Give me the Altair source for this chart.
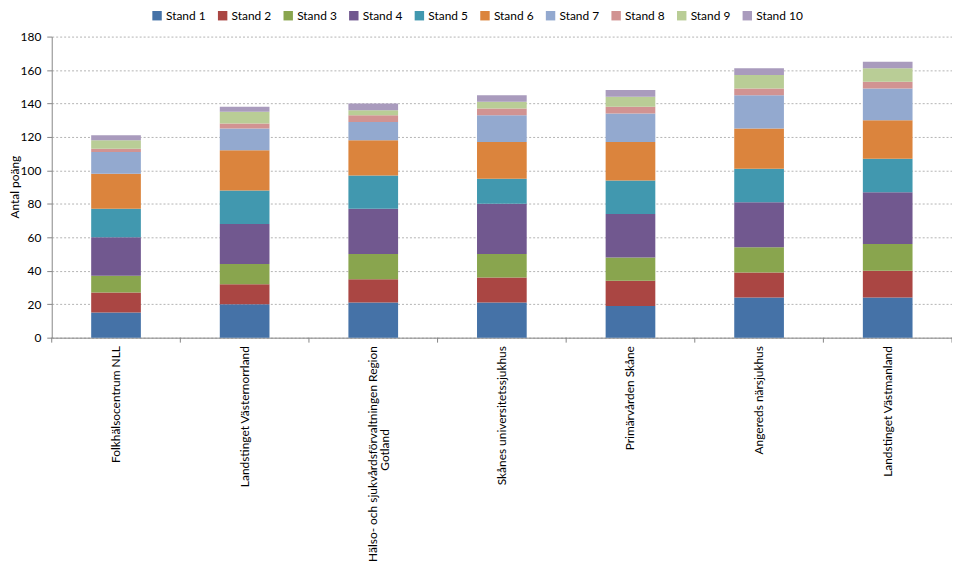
import altair as alt
import pandas as pd

categories = [
    "Folkhälsocentrum NLL",
    "Landstinget Västernorrland",
    "Hälso- och sjukvårdsförvaltningen Region Gotland",
    "Skånes universitetssjukhus",
    "Primärvården Skåne",
    "Angereds närsjukhus",
    "Landstinget Västmanland",
]
series_names = ["Stand 1", "Stand 2", "Stand 3", "Stand 4", "Stand 5",
                "Stand 6", "Stand 7", "Stand 8", "Stand 9", "Stand 10"]
stand1 = [15, 20, 21, 21, 19, 24, 24]
stand2 = [12, 12, 14, 15, 15, 15, 16]
stand3 = [10, 12, 15, 14, 14, 15, 16]
stand4 = [23, 24, 27, 30, 26, 27, 31]
stand5 = [17, 20, 20, 15, 20, 20, 20]
stand6 = [21, 24, 21, 22, 23, 24, 23]
stand7 = [13, 13, 11, 16, 17, 20, 19]
stand8 = [2, 3, 4, 4, 4, 4, 4]
stand9 = [5, 7, 3, 4, 6, 8, 8]
stand10 = [3, 3, 4, 4, 4, 4, 4]
y_ticks = [0, 20, 40, 60, 80, 100, 120, 140, 160, 180]
colors = ["#4572A7", "#AA4643", "#89A54E", "#71588F", "#4198AF",
          "#DB843D", "#93A9CF", "#D19392", "#B9CD96", "#A99BBD"]

all_series = [stand1, stand2, stand3, stand4, stand5,
              stand6, stand7, stand8, stand9, stand10]
rows = []
for si, (name, vals) in enumerate(zip(series_names, all_series)):
    for cat, v in zip(categories, vals):
        rows.append({"kategori": cat, "serie": name, "idx": si, "poang": v})
df = pd.DataFrame(rows)
cat_df = pd.DataFrame({"kategori": categories})
last_df = pd.DataFrame({"kategori": categories[-1:]})

# the long label is wrapped onto two lines, as in the original
long_cat = categories[2]
line1, line2 = long_cat.rsplit(" ", 1)
wrap_df = pd.DataFrame({"kategori": [long_cat], "rad": [line2]})

FONT = "Lato"
label_expr = (
    "datum.value == '" + long_cat + "' ? '" + line1 + "' : datum.label"
)

xscale = alt.Scale(domain=categories, paddingInner=0, paddingOuter=0)

bars = alt.Chart(df).mark_bar(size=50).encode(
    x=alt.X("kategori:N", scale=xscale, sort=categories,
            axis=alt.Axis(title=None, labelAngle=270, labelAlign="right",
                          labelBaseline="middle", labelExpr=label_expr,
                          labelLimit=0, ticks=False, labelPadding=8,
                          labelFont=FONT, labelFontSize=12, labelColor="#000000",
                          domainColor="#868686")),
    y=alt.Y("poang:Q", stack="zero",
            scale=alt.Scale(domain=[0, 180], nice=False),
            axis=alt.Axis(title="Antal poäng", values=y_ticks, tickSize=5,
                          tickColor="#868686", domainColor="#868686",
                          labelPadding=6, labelFont=FONT, labelFontSize=12,
                          labelColor="#000000", titleFont=FONT,
                          titleFontSize=12, titleFontWeight="normal",
                          titleColor="#000000", titleX=-37, titleY=151,
                          titleAngle=270, titleAlign="center",
                          titleBaseline="middle",
                          grid=True, gridColor="#b3b3b3", gridDash=[2, 2])),
    color=alt.Color("serie:N",
                    scale=alt.Scale(domain=series_names, range=colors),
                    sort=series_names,
                    legend=alt.Legend(title=None, orient="none", legendX=100,
                                      legendY=-27, direction="horizontal",
                                      columns=10, symbolType="square",
                                      symbolSize=90, symbolStrokeWidth=0,
                                      labelFont=FONT, labelFontSize=12,
                                      labelColor="#000000", labelOffset=3,
                                      columnPadding=11)),
    order=alt.Order("idx:Q", sort="ascending"),
)

wrap_text = alt.Chart(wrap_df).mark_text(
    angle=270, align="center", baseline="middle", font=FONT, fontSize=12,
    color="#000000", xOffset=12,
).encode(
    x=alt.X("kategori:N", scale=xscale, sort=categories),
    y=alt.value(416),
    text="rad:N",
)

ticks = alt.Chart(cat_df).mark_rule(color="#868686").encode(
    x=alt.X("kategori:N", scale=xscale, sort=categories, bandPosition=0),
    y=alt.value(303), y2=alt.value(308),
)
ticks_end = alt.Chart(last_df).mark_rule(color="#868686").encode(
    x=alt.X("kategori:N", scale=xscale, sort=categories, bandPosition=1),
    y=alt.value(303), y2=alt.value(308),
)

chart = alt.layer(bars, ticks, ticks_end, wrap_text).properties(
    width=906, height=303,
    autosize=alt.AutoSizeParams(type="none"),
    padding={"left": 44, "top": 27, "right": 0, "bottom": 226},
).configure_view(stroke=None)

chart.save("out.html", embed_options={"renderer": "svg", "actions": False})
